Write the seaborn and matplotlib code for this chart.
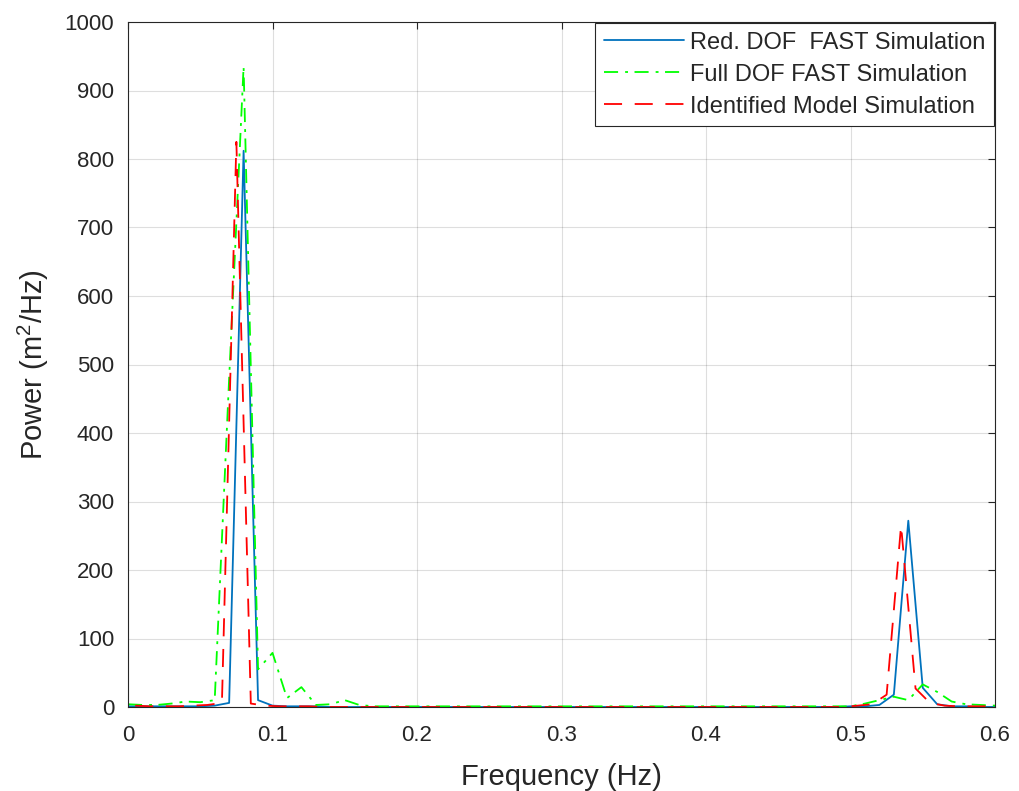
import numpy as np
import matplotlib
matplotlib.use("Agg")
import matplotlib.pyplot as plt
import seaborn as sns

# ---- data ----
freq = [round(0.01 * i, 2) for i in range(61)]
freq_red = [round(0.005 + 0.01 * i, 3) for i in range(60)]

red_dof = [1, 1, 1, 1, 1, 1, 2, 6, 812, 10,
           2, 1, 1, 1, 0, 0, 0, 0, 0, 0,
           0, 0, 0, 0, 0, 0, 0, 0, 0, 0,
           0, 0, 0, 0, 0, 0, 0, 0, 0, 0,
           0, 0, 0, 0, 0, 0, 0, 0, 0, 0,
           1, 1, 3, 18, 272, 28, 4, 1, 1, 0,
           0]
full_dof = [4, 3, 3, 5, 8, 7, 10, 480, 935, 55,
            79, 13, 29, 3, 4, 10, 3, 1, 1, 1,
            1, 1, 1, 1, 1, 1, 1, 1, 1, 1,
            1, 1, 1, 1, 1, 1, 1, 1, 1, 1,
            1, 1, 1, 1, 1, 1, 1, 1, 1, 1,
            1, 5, 10, 15, 10, 33, 22, 8, 4, 3,
            2]
identified = [2, 1, 1, 1, 2, 3, 6, 825, 5, 2,
              1, 1, 1, 0, 0, 0, 0, 0, 0, 0,
              0, 0, 0, 0, 0, 0, 0, 0, 0, 0,
              0, 0, 0, 0, 0, 0, 0, 0, 0, 0,
              0, 0, 0, 0, 0, 0, 0, 0, 0, 0,
              2, 4, 18, 265, 27, 6, 2, 1, 1, 1]

labels = ["Red. DOF  FAST Simulation", "Full DOF FAST Simulation",
          "Identified Model Simulation"]
xticks = [0, 0.1, 0.2, 0.3, 0.4, 0.5, 0.6]
xticklabels = ["0", "0.1", "0.2", "0.3", "0.4", "0.5", "0.6"]
yticks = list(range(0, 1001, 100))

# ---- style ----
sns.set_style("white")
plt.rcParams["font.family"] = ["Liberation Sans", "DejaVu Sans"]
plt.rcParams["mathtext.default"] = "regular"
txt = "#262626"

fig = plt.figure(figsize=(10.19, 7.91), dpi=100)
ax = fig.add_axes([128 / 1019, 1 - 707 / 791, (995 - 128) / 1019, (707 - 22) / 791])

lw = 1.3
sns.lineplot(x=freq, y=red_dof, ax=ax, color="#0072BD", lw=lw,
             linestyle="-", label=labels[0])
sns.lineplot(x=freq, y=full_dof, ax=ax, color="#00FF00", lw=lw,
             linestyle=(0, (7.8, 3.9, 1.6, 3.6)), label=labels[1])
sns.lineplot(x=freq_red, y=identified, ax=ax, color="#FF0000", lw=lw,
             linestyle=(0, (10, 7)), label=labels[2])

ax.set_xlim(0, 0.6)
ax.set_ylim(0, 1000)
ax.set_xticks(xticks)
ax.set_xticklabels(xticklabels)
ax.set_yticks(yticks)
ax.grid(True, color="#000000", alpha=0.13, lw=0.8)
for s in ax.spines.values():
    s.set_color(txt)
    s.set_linewidth(0.8)
ax.tick_params(direction="in", length=5, width=0.8, colors=txt,
               labelsize=16, top=True, right=True)
ax.tick_params(axis="x", pad=13)
ax.tick_params(axis="y", pad=10)

ax.set_xlabel("Frequency (Hz)", fontsize=21, color=txt, labelpad=12)
ax.set_ylabel("Power (m$^2$/Hz)", fontsize=21, color=txt, labelpad=10)

leg = ax.legend(loc="upper right", fontsize=17, frameon=True, fancybox=False,
                edgecolor=txt, framealpha=1, borderaxespad=0.05,
                handlelength=3.4, handletextpad=0.25, labelspacing=0.42,
                borderpad=0.36)
leg.get_frame().set_linewidth(0.8)
for t in leg.get_texts():
    t.set_color(txt)

fig.savefig("out.png", dpi=100)
